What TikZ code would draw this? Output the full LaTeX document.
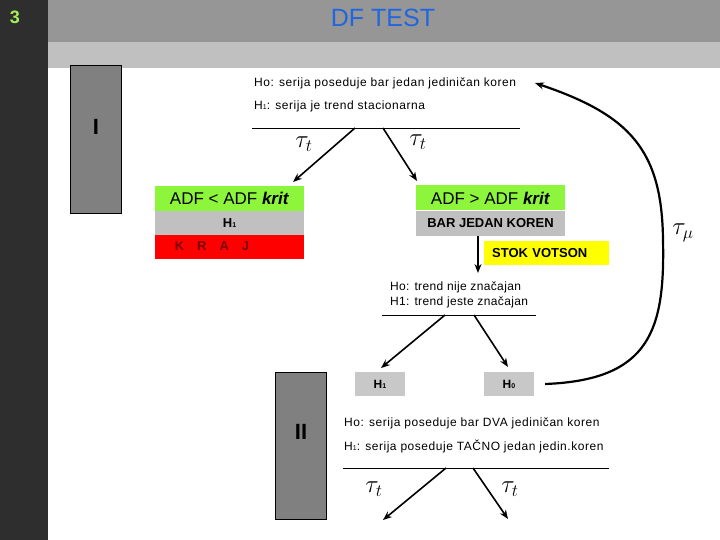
\documentclass[tikz,border=0pt]{standalone}
\usepackage{fontspec}
\setmainfont{Liberation Sans}
\usetikzlibrary{arrows.meta}
\definecolor{stripdark}{HTML}{2E2E2E}
\definecolor{titlegrey}{HTML}{969696}
\definecolor{bandgrey}{HTML}{C0C0C0}
\definecolor{boxgrey}{HTML}{808080}
\definecolor{lightgrey}{HTML}{C0C0C0}
\definecolor{hgrey}{HTML}{C8C8C8}
\definecolor{adfgreen}{HTML}{8CF53C}
\definecolor{krajred}{HTML}{FF0000}
\definecolor{krajtext}{HTML}{7A0000}
\definecolor{stokyellow}{HTML}{FFFF00}
\definecolor{titleblue}{HTML}{1F66E0}
\definecolor{numgreen}{HTML}{A6F05A}
\newcommand{\subone}{{\fontsize{7}{7}\selectfont 1}}
\newcommand{\subzero}{{\fontsize{7}{7}\selectfont 0}}
\begin{document}
\begin{tikzpicture}[x=1pt,y=-1pt,
  romanbox/.style={draw=black, line width=0.8pt, fill=boxgrey, minimum width=51pt, inner sep=0pt, font=\fontsize{22}{22}\selectfont\bfseries},
  hyptext/.style={anchor=west, inner sep=0pt, font=\fontsize{12}{12}\selectfont\addfontfeatures{LetterSpace=4.5}},
  trendtext/.style={anchor=west, inner sep=0pt, font=\fontsize{12}{12}\selectfont\addfontfeatures{LetterSpace=3}},
  greenbox/.style={fill=adfgreen, minimum width=149pt, minimum height=25pt, inner sep=0pt, font=\fontsize{17}{17}\selectfont},
  greybar/.style={fill=lightgrey, minimum width=149pt, minimum height=23pt, inner sep=0pt, font=\fontsize{13}{13}\selectfont\bfseries},
  hbox/.style={fill=hgrey, minimum width=50pt, minimum height=24pt, inner sep=0pt, font=\fontsize{12}{12}\selectfont\bfseries},
  taulabel/.style={inner sep=0pt, font=\fontsize{24}{24}\selectfont},
  arr/.style={-{Stealth[length=9pt,width=7pt]}, line width=1.6pt},
  rule/.style={line width=0.8pt}
]
\useasboundingbox (0,0) rectangle (720,540);
% background bands
\fill[stripdark] (0,0) rectangle (48,540);
\fill[titlegrey] (48,0) rectangle (720,42);
\fill[bandgrey] (48,42) rectangle (720,68);
\node[text=numgreen, font=\fontsize{18}{18}\selectfont\bfseries] (num) at (15,17) {3};
\node[text=titleblue, font=\fontsize{25}{25}\selectfont] (title) at (383,18) {DF TEST};

% roman boxes
\node[romanbox, minimum height=148pt] (boxI) at (96,139) {};
\node[font=\fontsize{22}{22}\selectfont\bfseries] (labI) at (96,127) {I};
\node[romanbox, minimum height=147pt] (boxII) at (301,445.5) {};
\node[font=\fontsize{22}{22}\selectfont\bfseries] (labII) at (301,432) {II};

% stage I hypotheses
\node[hyptext] (h0top) at (254,83) {Ho: serija poseduje bar jedan jedini\v{c}an koren};
\node[hyptext] (h1top) at (254,106) {H\subone: serija je trend stacionarna};
\coordinate (ruleIa) at (252,128);
\coordinate (ruleIb) at (520,128);
\draw[rule] (ruleIa) -- (ruleIb);
\coordinate (splitIL) at (355,128);
\coordinate (splitIR) at (383,128);
\coordinate (endIL) at (293,182);
\coordinate (endIR) at (417,181);

% left branch
\node[greenbox] (adfless) at (229.5,198.5) {ADF < ADF \textbf{\textit{krit}}};
\node[greybar] (h1left) at (229.5,223) {H\subone};
\node[fill=krajred, minimum width=149pt, minimum height=24pt, inner sep=0pt] (kraj) at (229.5,246.5) {};
\node[text=krajtext, inner sep=0pt, font=\fontsize{13}{13}\selectfont\bfseries] (krajtxt) at (212,246.5) {K\hspace{13pt}R\hspace{13pt}A\hspace{13pt}J};

% right branch
\node[greenbox] (adfgreater) at (490.5,198) {ADF > ADF \textbf{\textit{krit}}};
\node[greybar, minimum height=24pt] (barjedan) at (490.5,223.5) {BAR JEDAN KOREN};
\node[fill=stokyellow, minimum width=125pt, minimum height=24pt, inner ysep=0pt, inner xsep=8pt, anchor=west, text width=109pt, align=left, font=\fontsize{13}{13}\selectfont\bfseries] (stok) at (484,253) {STOK VOTSON};
\coordinate (stokarrowend) at (478,273);

\draw[arr] (splitIL) -- (endIL);
\draw[arr] (splitIR) -- (endIR);
\node[taulabel] (tauIL) at (304,144) {$\tau_{\scriptstyle t}$};
\node[taulabel] (tauIR) at (418,142) {$\tau_{\scriptstyle t}$};
\draw[arr, line width=1.3pt] (barjedan.south -| stokarrowend) -- (stokarrowend);

% trend test
\node[trendtext] (trend0) at (390,287) {Ho: trend nije zna\v{c}ajan};
\node[trendtext] (trend1) at (390,302) {H1: trend jeste zna\v{c}ajan};
\coordinate (ruleTa) at (382,315);
\coordinate (ruleTb) at (536,315);
\draw[rule] (ruleTa) -- (ruleTb);
\coordinate (splitTL) at (445,315);
\coordinate (splitTR) at (474,315);
\node[hbox] (hone) at (380,384) {H\subone};
\node[hbox] (hzero) at (509,384) {H\subzero};
\draw[arr] (splitTL) -- (381,368);
\draw[arr] (splitTR) -- (508,367);

% loop back
\coordinate (loopend) at (535,83);
\draw[arr, line width=2.2pt] ([xshift=11pt]hzero.east) .. controls (650,380) and (665,330) .. (663,240) .. controls (662,150) and (630,115) .. (loopend);
\node[taulabel] (taumu) at (683,233) {$\tau_{\scriptstyle \mu}$};

% stage II hypotheses
\node[hyptext] (h0bot) at (344,423) {Ho: serija poseduje bar DVA jedini\v{c}an koren};
\node[hyptext] (h1bot) at (344,446) {H\subone: serija poseduje TA\v{C}NO jedan jedin.koren};
\coordinate (ruleIIa) at (343,468);
\coordinate (ruleIIb) at (609,468);
\draw[rule] (ruleIIa) -- (ruleIIb);
\coordinate (splitIIL) at (446,468);
\coordinate (splitIIR) at (473,468);
\coordinate (endIIL) at (383,520);
\coordinate (endIIR) at (508,519);
\draw[arr] (splitIIL) -- (endIIL);
\draw[arr] (splitIIR) -- (endIIR);
\node[taulabel] (tauIIL) at (374,489) {$\tau_{\scriptstyle t}$};
\node[taulabel] (tauIIR) at (510,489) {$\tau_{\scriptstyle t}$};
\end{tikzpicture}
\end{document}
